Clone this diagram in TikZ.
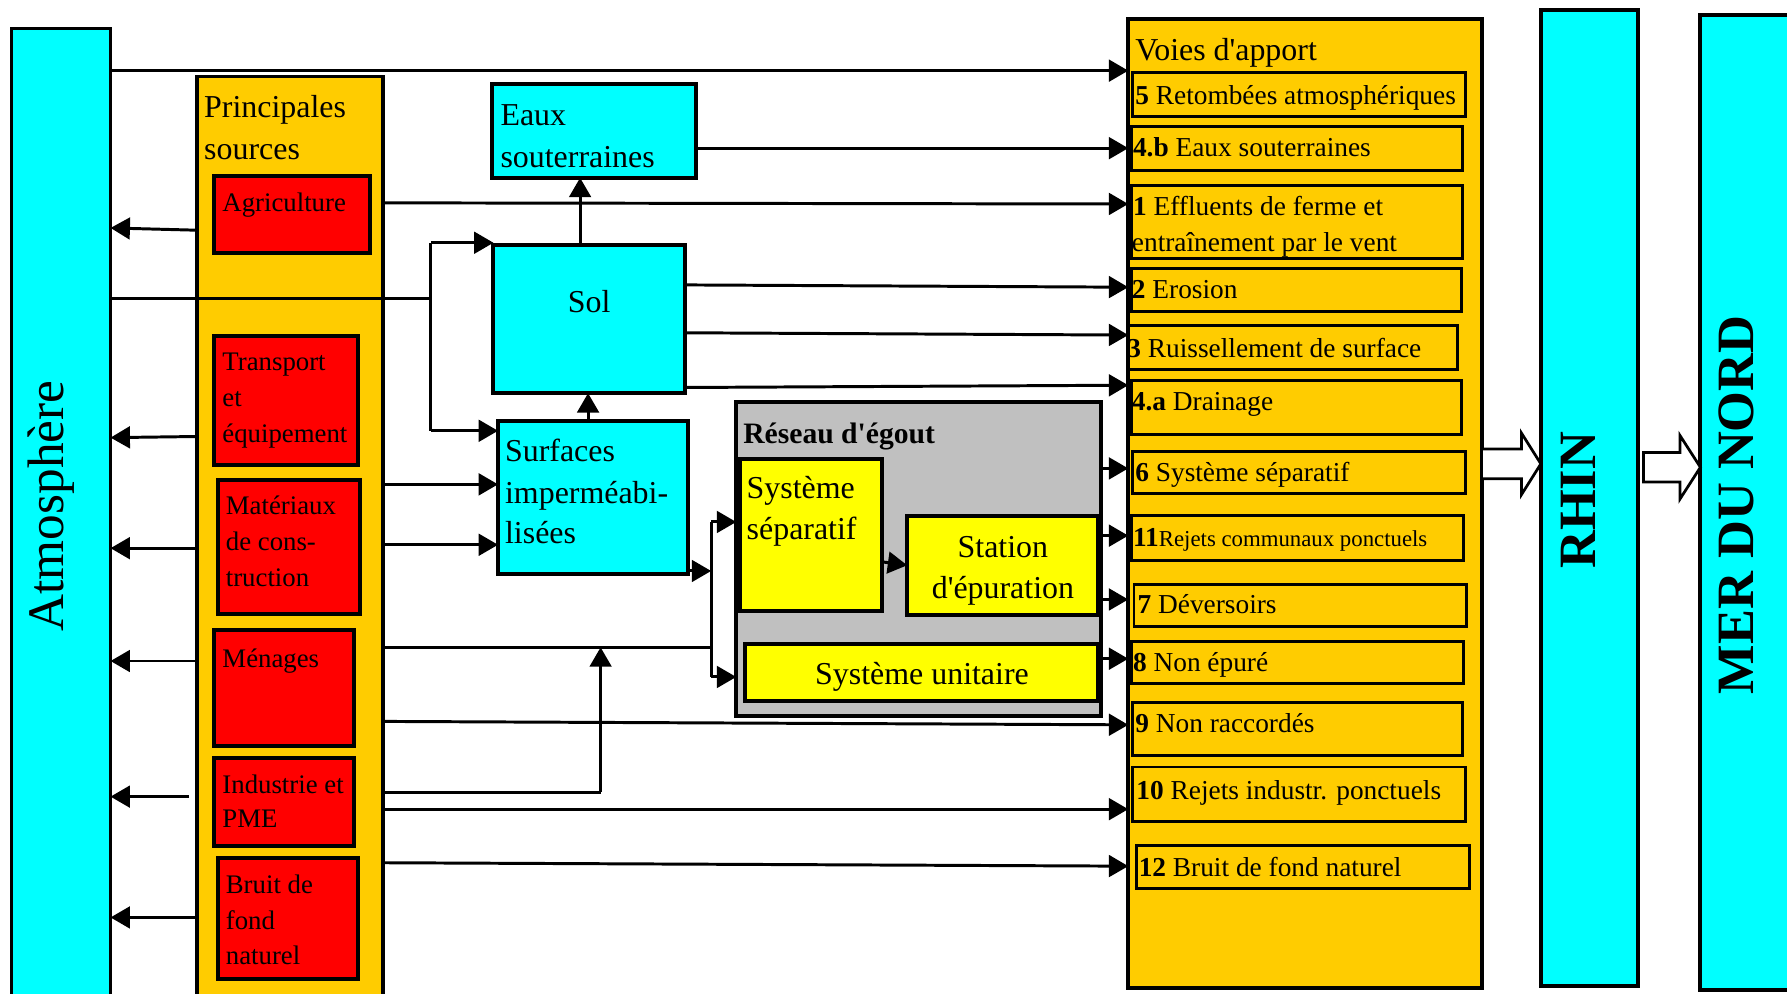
\documentclass[tikz,border=0pt]{standalone}
\usepackage{fontspec}
\setmainfont{Liberation Serif}
\usetikzlibrary{arrows.meta,fit}
\definecolor{cyanc}{HTML}{00FFFF}
\definecolor{orangec}{HTML}{FFCC00}
\definecolor{redc}{HTML}{FF0000}
\definecolor{yellowc}{HTML}{FFFF00}
\definecolor{greyc}{HTML}{C0C0C0}
\begin{document}
\begin{tikzpicture}[x=1pt,y=-1pt,
  box/.style={draw=black,line width=3.5pt,inner sep=0pt,outer sep=0pt},
  cyanbox/.style={box,fill=cyanc},
  colbox/.style={box,line width=3pt},
  redbox/.style={box,fill=redc},
  yelbox/.style={box,fill=yellowc},
  itembox/.style={box,line width=2.6pt},
  arr/.style={line width=2.6pt,-{Triangle[length=17pt,width=19pt]}},
  conn/.style={line width=2.6pt},
  big/.style={inner sep=0pt,anchor=mid west,yshift=-6.5pt,font=\fontsize{28}{33}\selectfont},
  rtxt/.style={inner sep=0pt,anchor=mid west,yshift=-6pt,font=\fontsize{23.5}{28}\selectfont},
  itxt/.style={inner sep=0pt,anchor=mid west,yshift=-6pt,font=\fontsize{24}{28}\selectfont},
  vtxt/.style={inner sep=0pt,rotate=90,font=\fontsize{46}{50}\selectfont\bfseries},
  hollow/.style={draw=black,line width=2.4pt,fill=white,line join=miter}
]
\useasboundingbox (0,0) rectangle (1568,872);
\clip (0,0) rectangle (1568,872);

% ---- big columns
\node[cyanbox,line width=3pt,fit={(10,25)(97,890)}] (atm) {};
\node[colbox,fill=orangec,fit={(173,67)(336,890)}] (src) {};
\node[colbox,fill=orangec,line width=3.5pt,fit={(990,17)(1300,867)}] (voies) {};
\node[cyanbox,line width=3.5pt,fit={(1352,9)(1437,865)}] (rhin) {};
\node[cyanbox,line width=3.5pt,fit={(1492,13)(1590,869)}] (mer) {};

% ---- sources
\node[redbox,fit={(188,154)(325,222)}] (agri) {};
\node[redbox,fit={(188,295)(314,408)}] (trans) {};
\node[redbox,fit={(191,421)(316,539)}] (mat) {};
\node[redbox,fit={(188,553)(311,655)}] (men) {};
\node[redbox,fit={(188,665)(311,742)}] (ind) {};
\node[redbox,fit={(191,753)(314,859)}] (bruit) {};

% ---- middle
\node[cyanbox,fit={(432,74)(611,156)}] (eaux) {};
\node[cyanbox,fit={(433,215)(601,345)}] (sol) {};
\node[cyanbox,fit={(437,369)(604,504)}] (surf) {};
\node[box,fill=greyc,fit={(646,353)(966,628)}] (res) {};
\node[yelbox,fit={(649,403)(774,536)}] (sep) {};
\node[yelbox,fit={(796,453)(963,540)}] (stat) {};
\node[yelbox,fit={(654,565)(963,615)}] (uni) {};

% ---- voies d'apport items
\node[itembox,fit={(994,64)(1286,102)}] (v5) {};
\node[itembox,fit={(993,111)(1283,150)}] (v4b) {};
\node[itembox,fit={(993,163)(1283,227)}] (v1) {};
\node[itembox,fit={(993,236)(1282,273)}] (v2) {};
\node[itembox,fit={(990,286)(1279,324)}] (v3) {};
\node[itembox,fit={(993,334)(1282,381)}] (v4a) {};
\node[itembox,fit={(994,396)(1286,433)}] (v6) {};
\node[itembox,fit={(993,452)(1284,492)}] (v11) {};
\node[itembox,fit={(995,513)(1287,550)}] (v7) {};
\node[itembox,fit={(993,563)(1284,600)}] (v8) {};
\node[itembox,fit={(994,616)(1283,663)}] (v9) {};
\node[itembox,fit={(994,673)(1286,721)}] (v10) {};
\node[itembox,fit={(997,742)(1289,780)}] (v12) {};

% ---- texts
\node[inner sep=0pt,rotate=90,font=\fontsize{45}{50}\selectfont] (tatm) at (45,444) {Atmosphère};
\node[vtxt] (trhin) at (1385,439) {RHIN};
\node[vtxt] (tmer) at (1524,443) {MER DU NORD};

\node[big] (tps1) at (179,94) {Principales};
\node[big] (tps2) at (179,131) {sources};
\node[rtxt] (tag) at (195,177) {Agriculture};
\node[rtxt] (ttr1) at (195,317) {Transport};
\node[rtxt] (ttr2) at (195,348) {et};
\node[rtxt] (ttr3) at (195,380) {équipement};
\node[rtxt] (tma1) at (198,443) {Matériaux};
\node[rtxt] (tma2) at (198,475) {de cons-};
\node[rtxt] (tma3) at (198,506) {truction};
\node[rtxt] (tme) at (195,577) {Ménages};
\node[rtxt] (tin1) at (195,688) {Industrie et};
\node[rtxt] (tin2) at (195,718) {PME};
\node[rtxt] (tbr1) at (198,776) {Bruit de};
\node[rtxt] (tbr2) at (198,807) {fond};
\node[rtxt] (tbr3) at (198,838) {naturel};

\node[big] (teo1) at (439,101) {Eaux};
\node[big] (teo2) at (439,138) {souterraines};
\node[big,anchor=mid] (tsol) at (517,265) {Sol};
\node[big] (tsu1) at (443,396) {Surfaces};
\node[big] (tsu2) at (443,433) {imperméabi-};
\node[big] (tsu3) at (443,468) {lisées};
\node[big,font=\fontsize{26}{30}\selectfont\bfseries] (tres) at (652,380) {Réseau d\textquotesingle égout};
\node[big] (tss1) at (655,429) {Système};
\node[big] (tss2) at (655,465) {séparatif};
\node[big,anchor=mid] (tst1) at (880,480) {Station};
\node[big,anchor=mid] (tst2) at (880,516) {d\textquotesingle épuration};
\node[big,anchor=mid] (tun) at (809,592) {Système unitaire};
\node[big] (tvo) at (996,44) {Voies d\textquotesingle apport};

\node[itxt] (i5) at (996,83) {\textbf{5} Retombées atmosphériques};
\node[itxt] (i4b) at (994,129) {\textbf{4.b} Eaux souterraines};
\node[itxt] (i1a) at (994,181) {\textbf{1} Effluents de ferme et};
\node[itxt] (i1b) at (993,212) {entraînement par le vent};
\node[itxt] (i2) at (993,254) {\textbf{2} Erosion};
\node[itxt] (i3) at (989,305) {\textbf{3} Ruissellement de surface};
\node[itxt] (i4a) at (993,352) {\textbf{4.a} Drainage};
\node[itxt] (i6) at (996,414) {\textbf{6} Système séparatif};
\node[itxt] (i11) at (994,471) {\textbf{11}\fontsize{20}{24}\selectfont Rejets communaux ponctuels};
\node[itxt] (i7) at (998,530) {\textbf{7} Déversoirs};
\node[itxt] (i8) at (994,581) {\textbf{8} Non épuré};
\node[itxt] (i9) at (996,634) {\textbf{9} Non raccordés};
\node[itxt] (i10) at (997,693) {\textbf{10} Rejets industr. ponctuels};
\node[itxt] (i12) at (999,761) {\textbf{12} Bruit de fond naturel};

% ---- connectors to voies d'apport
\draw[arr] (atm.east |- 0,62) -- (voies.west |- 0,62);
\draw[arr] (eaux.east |- 0,130) -- (voies.west |- 0,130);
\draw[arr] (src.east |- 0,178) -- (voies.west |- 0,179);
\draw[arr] (sol.east |- 0,250) -- (voies.west |- 0,252);
\draw[arr] (sol.east |- 0,292) -- (voies.west |- 0,294);
\draw[arr] (sol.east |- 0,340) -- (voies.west |- 0,338);
\draw[arr] (res.east |- 0,411) -- (voies.west |- 0,411);
\draw[arr] (res.east |- 0,470) -- (voies.west |- 0,470);
\draw[arr] (stat.east |- 0,526) -- (voies.west |- 0,526);
\draw[arr] (uni.east |- 0,578) -- (voies.west |- 0,578);
\draw[arr] (src.east |- 0,633) -- (voies.west |- 0,636);
\draw[arr] (src.east |- 0,710) -- (voies.west |- 0,710);
\draw[arr] (src.east |- 0,757) -- (voies.west |- 0,760);

% ---- sources to atmosphere
\draw[arr] (src.west |- 0,202) -- (atm.east |- 0,200);
\draw[arr] (src.west |- 0,383) -- (atm.east |- 0,384);
\draw[arr] (src.west |- 0,481) -- (atm.east |- 0,481);
\draw[arr] (src.west |- 0,580) -- (atm.east |- 0,580);
\draw[arr] (166,699) -- (atm.east |- 0,699);
\draw[arr] (src.west |- 0,805) -- (atm.east |- 0,805);

% ---- atmosphere to sol / surfaces
\coordinate (j1) at (378,262);
\coordinate (j2) at (378,213);
\coordinate (j3) at (378,378);
\draw[conn] (atm.east |- j1) -- (j1);
\draw[conn] (j2) -- (j3);
\draw[arr] (j2) -- (sol.west |- j2);
\draw[arr] (j3) -- (surf.west |- j3);

% ---- sources to surfaces
\draw[arr] (src.east |- 0,425) -- (surf.west |- 0,425);
\draw[arr] (src.east |- 0,478) -- (surf.west |- 0,478);

% ---- vertical flows
\draw[arr] (sol.north -| 509,0) -- (eaux.south -| 509,0);
\draw[arr] (surf.north -| 516,0) -- (sol.south -| 516,0);

% ---- to sewer network
\coordinate (k1) at (624,458);
\coordinate (k2) at (624,594);
\coordinate (k3) at (624,501);
\coordinate (k4) at (624,568);
\draw[arr] (surf.east |- k3) -- (k3);
\draw[conn] (k1) -- (k2);
\draw[arr] (k1) -- (res.west |- k1);
\draw[arr] (k2) -- (res.west |- k2);
\draw[conn] (src.east |- k4) -- (k4);
\coordinate (m1) at (527,695);
\coordinate (m2) at (527,568);
\draw[conn] (src.east |- m1) -- (m1);
\draw[arr] (m1) -- (m2);
\draw[arr] (sep.east |- 0,493) -- (stat.west |- 0,496);

% ---- hollow arrows
\draw[hollow] (voies.east |- 0,394) -- (1335,394) -- (1335,380) -- (rhin.west |- 0,407)
  -- (1335,434) -- (1335,420) -- (voies.east |- 0,420) -- cycle;
\draw[hollow] (1442,397) -- (1474,397) -- (1474,382) -- (mer.west |- 0,410)
  -- (1474,438) -- (1474,423) -- (1442,423) -- cycle;
\end{tikzpicture}
\end{document}
